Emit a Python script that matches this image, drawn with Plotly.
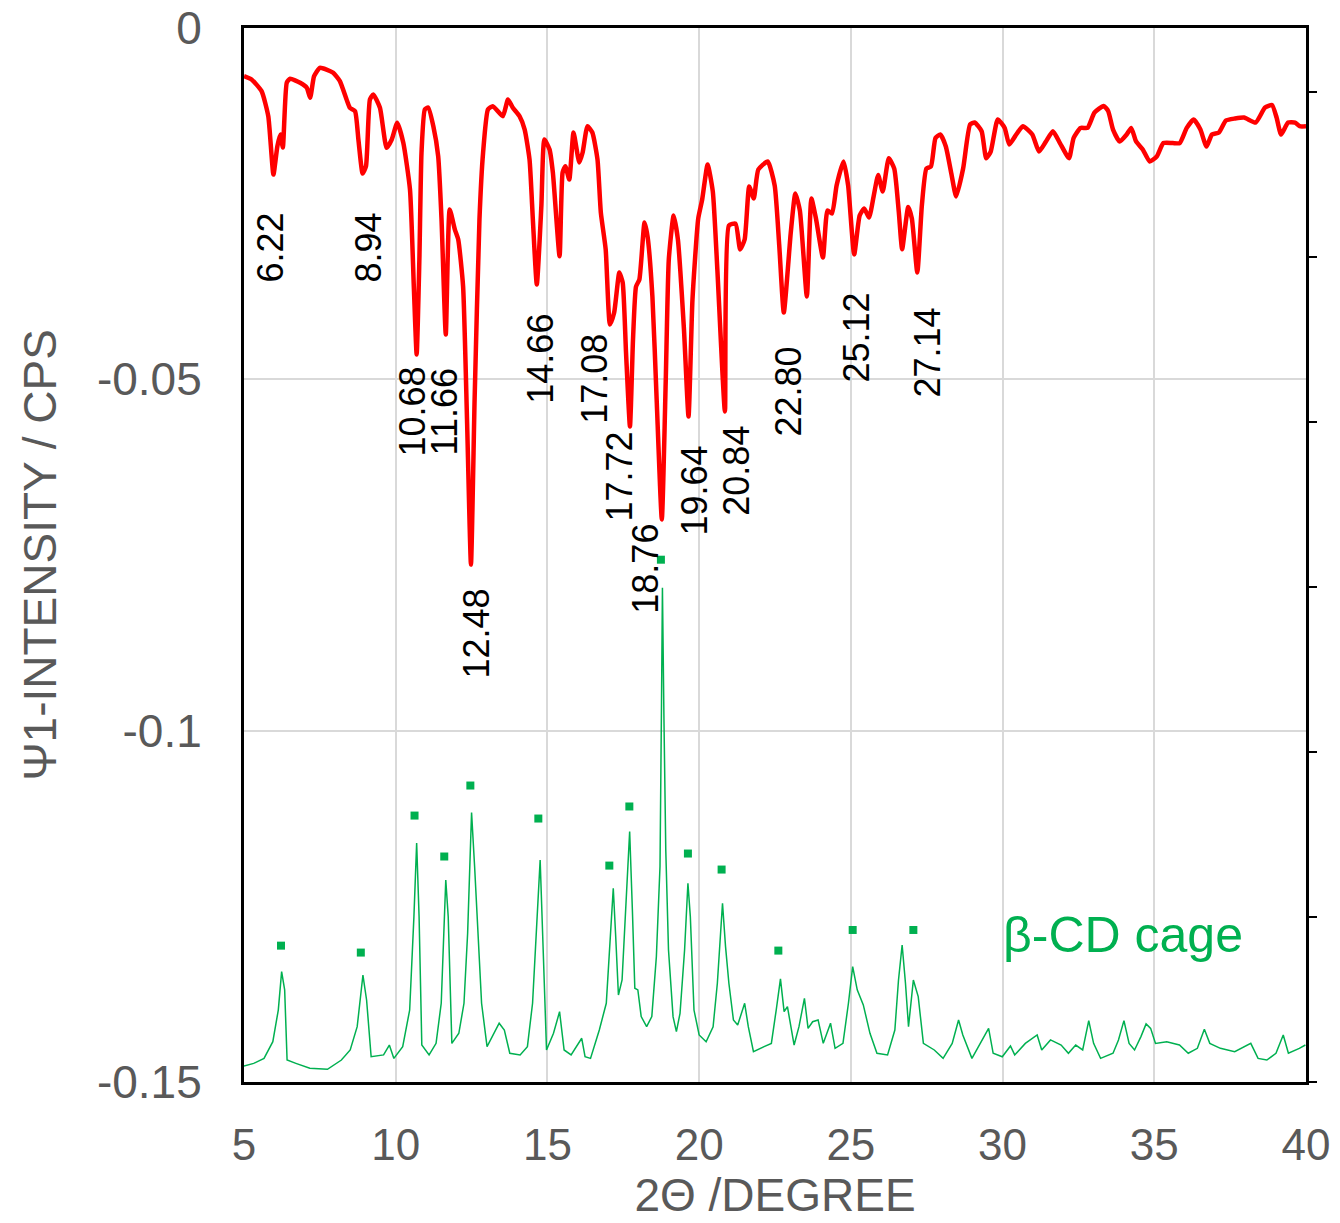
import plotly.graph_objects as go

# ---- Ψ1 intensity (red, left axis) ----
red_x = [5.00, 5.25, 5.58, 5.80, 5.97, 6.10, 6.20, 6.28, 6.41, 6.52, 6.85, 7.07, 7.18, 7.31, 7.50,
         7.72, 7.94, 8.16, 8.38, 8.49, 8.66, 8.77, 8.91, 9.02, 9.15, 9.26, 9.48, 9.70, 9.87, 10.05,
         10.25, 10.47, 10.60, 10.69, 10.78, 10.85, 10.96, 11.07, 11.24, 11.40, 11.51, 11.65, 11.78,
         11.95, 12.06, 12.22, 12.35, 12.48, 12.60, 12.76, 12.88, 13.04, 13.20, 13.53, 13.70, 13.86,
         14.08, 14.25, 14.41, 14.52, 14.65, 14.80, 14.90, 15.07, 15.18, 15.40, 15.50, 15.59, 15.72,
         15.86, 16.05, 16.16, 16.32, 16.48, 16.65, 16.76, 16.92, 17.06, 17.20, 17.37, 17.48, 17.59,
         17.72, 17.82, 17.92, 18.03, 18.20, 18.30, 18.46, 18.60, 18.77, 18.90, 19.00, 19.16, 19.30,
         19.50, 19.65, 19.78, 19.97, 20.10, 20.28, 20.45, 20.60, 20.85, 20.98, 21.20, 21.35, 21.50,
         21.65, 21.80, 21.95, 22.26, 22.49, 22.64, 22.79, 23.02, 23.17, 23.32, 23.55, 23.70, 23.85,
         24.08, 24.23, 24.38, 24.53, 24.76, 24.91, 25.11, 25.29, 25.44, 25.60, 25.75, 25.90, 26.05,
         26.25, 26.43, 26.58, 26.69, 26.89, 27.01, 27.19, 27.34, 27.49, 27.64, 27.79, 27.95, 28.13,
         28.32, 28.47, 28.70, 28.93, 29.08, 29.31, 29.46, 29.61, 29.84, 30.07, 30.22, 30.45, 30.67,
         30.98, 31.20, 31.43, 31.66, 31.89, 32.19, 32.34, 32.57, 32.80, 33.03, 33.33, 33.48, 33.64,
         33.86, 34.09, 34.24, 34.40, 34.62, 34.85, 35.08, 35.30, 35.61, 35.84, 36.07, 36.30, 36.52,
         36.72, 36.90, 37.13, 37.36, 37.66, 37.96, 38.34, 38.65, 38.88, 39.03, 39.18, 39.41, 39.64,
         39.79, 40.00]
red_y = [-0.00686, -0.00733, -0.00899, -0.01255, -0.02085, -0.01682, -0.01516, -0.01701, -0.00776,
         -0.00723, -0.00780, -0.00851, -0.00993, -0.00686, -0.00566, -0.00591, -0.00638, -0.00757,
         -0.01018, -0.01136, -0.01184, -0.01587, -0.02071, -0.01967, -0.01018, -0.00946, -0.01136,
         -0.01705, -0.01587, -0.01349, -0.01634, -0.02299, -0.03720, -0.04647, -0.03290, -0.01772,
         -0.01160, -0.01132, -0.01398, -0.01825, -0.02726, -0.04362, -0.02583, -0.02868, -0.03010,
         -0.03675, -0.05570, -0.07636, -0.05287, -0.02726, -0.01772, -0.01160, -0.01113, -0.01255,
         -0.01018, -0.01136, -0.01255, -0.01445, -0.01872, -0.02726, -0.03651, -0.02536, -0.01587,
         -0.01729, -0.02061, -0.03248, -0.02057, -0.01967, -0.02156, -0.01487, -0.01914, -0.01772,
         -0.01398, -0.01487, -0.01872, -0.02626, -0.03152, -0.04220, -0.04049, -0.03480, -0.03622,
         -0.04618, -0.05671, -0.04434, -0.03679, -0.03580, -0.02768, -0.02967, -0.03822, -0.05287,
         -0.06995, -0.05003, -0.03295, -0.02669, -0.03010, -0.04291, -0.05529, -0.03864, -0.02711,
         -0.02441, -0.01943, -0.02327, -0.03437, -0.05458, -0.02811, -0.02783, -0.03152, -0.03010,
         -0.02256, -0.02427, -0.02014, -0.01900, -0.02242, -0.03095, -0.04049, -0.02911, -0.02356,
         -0.02598, -0.03822, -0.02427, -0.02711, -0.03266, -0.02598, -0.02640, -0.02242, -0.01900,
         -0.02242, -0.03224, -0.02669, -0.02569, -0.02697, -0.02398, -0.02092, -0.02327, -0.01853,
         -0.02000, -0.02619, -0.03147, -0.02548, -0.02711, -0.03480, -0.02526, -0.02000, -0.01971,
         -0.01566, -0.01516, -0.01687, -0.02092, -0.02398, -0.02000, -0.01373, -0.01345, -0.01469,
         -0.01853, -0.01758, -0.01302, -0.01422, -0.01658, -0.01516, -0.01398, -0.01516, -0.01758,
         -0.01615, -0.01469, -0.01637, -0.01853, -0.01566, -0.01422, -0.01422, -0.01203, -0.01110,
         -0.01181, -0.01445, -0.01615, -0.01516, -0.01422, -0.01615, -0.01729, -0.01900, -0.01829,
         -0.01637, -0.01637, -0.01637, -0.01422, -0.01302, -0.01445, -0.01687, -0.01516, -0.01487,
         -0.01317, -0.01288, -0.01274, -0.01345, -0.01132, -0.01096, -0.01274, -0.01516, -0.01345,
         -0.01345, -0.01398, -0.01398]

# ---- β-CD cage XRD pattern (green, right axis, counts) ----
green_x = [5.0, 5.32, 5.66, 5.95, 6.13, 6.24, 6.34, 6.42, 6.71, 7.17, 7.75, 8.21, 8.5, 8.73, 8.92,
           9.04, 9.19, 9.6, 9.79, 9.94, 10.23, 10.46, 10.6, 10.69, 10.77, 10.86, 11.1, 11.33, 11.5,
           11.65, 11.73, 11.85, 12.08, 12.25, 12.37, 12.5, 12.6, 12.69, 12.83, 13.01, 13.24, 13.41,
           13.58, 13.76, 14.1, 14.34, 14.51, 14.66, 14.76, 14.86, 14.97, 15.2, 15.4, 15.55, 15.78,
           16.13, 16.24, 16.42, 16.71, 16.94, 17.05, 17.17, 17.25, 17.34, 17.46, 17.57, 17.71, 17.8,
           17.88, 17.98, 18.09, 18.27, 18.44, 18.59, 18.71, 18.76, 18.79, 18.84, 18.9, 18.99, 19.14,
           19.25, 19.37, 19.52, 19.63, 19.71, 19.83, 20.0, 20.23, 20.46, 20.6, 20.77, 20.87, 20.98,
           21.13, 21.27, 21.5, 21.62, 21.79, 22.14, 22.38, 22.54, 22.68, 22.8, 22.91, 23.13, 23.29,
           23.47, 23.59, 23.74, 23.92, 24.09, 24.33, 24.48, 24.74, 24.92, 25.06, 25.21, 25.41, 25.63,
           25.86, 26.21, 26.45, 26.57, 26.69, 26.8, 26.9, 27.06, 27.22, 27.39, 27.75, 28.04, 28.34,
           28.55, 28.69, 28.99, 29.34, 29.54, 29.69, 29.99, 30.26, 30.4, 30.75, 31.14, 31.29, 31.58,
           31.93, 32.17, 32.41, 32.64, 32.84, 33.0, 33.23, 33.64, 33.82, 34.0, 34.17, 34.35, 34.56,
           34.73, 34.88, 35.04, 35.41, 35.83, 36.12, 36.42, 36.65, 36.83, 37.18, 37.65, 38.18, 38.42,
           38.71, 39.01, 39.25, 39.42, 39.78, 39.98]
green_y = [97, 113, 143, 244, 436, 669, 558, 133, 113, 83, 77, 133, 194, 335, 648,
           497, 153, 164, 224, 143, 214, 436, 1002, 1447, 1002, 224, 164, 234, 477,
           1224, 1002, 234, 295, 477, 901, 1632, 1305, 972, 477, 214, 295, 356,
           315, 174, 164, 214, 477, 1002, 1345, 800, 194, 295, 426, 194, 164,
           265, 153, 143, 315, 477, 800, 1174, 881, 527, 618, 1002, 1517, 1042,
           568, 558, 396, 335, 396, 759, 1305, 2300, 2994, 2200, 1406, 800, 396,
           305, 416, 800, 1204, 1002, 436, 285, 244, 335, 598, 1083, 820, 598,
           376, 345, 477, 335, 184, 214, 234, 436, 625, 426, 456, 224, 335,
           507, 325, 365, 376, 234, 356, 204, 234, 477, 699, 558, 467, 295,
           174, 164, 315, 618, 830, 598, 335, 618, 517, 234, 194, 143, 234,
           376, 285, 143, 255, 325, 174, 153, 218, 164, 234, 285, 194, 255,
           224, 174, 224, 194, 372, 234, 143, 174, 255, 372, 234, 194, 275,
           352, 325, 234, 244, 224, 174, 204, 319, 234, 204, 184, 234, 143,
           133, 174, 285, 174, 204, 224]

# ---- peak markers above the β-CD pattern ----
marker_x = [6.22, 8.85, 10.62, 11.6, 12.46, 14.7, 17.04, 17.7, 18.74, 19.63, 20.74, 22.61, 25.06, 27.06]
marker_y = [826, 784, 1614, 1366, 1796, 1596, 1311, 1669, 3164, 1384, 1287, 796, 921, 921]

# ---- peak labels ----
peak_labels = ["6.22", "8.94", "10.68", "11.66", "12.48", "14.66", "17.08", "17.72",
               "18.76", "19.64", "20.84", "22.80", "25.12", "27.14"]
label_x = [5.86, 9.09, 10.54, 11.62, 12.68, 14.76, 16.54, 17.39, 18.22, 19.86, 21.25, 22.93, 25.17, 27.54]
label_y = [-0.03124, -0.03124, -0.05458, -0.05458, -0.08618, -0.04704, -0.04989, -0.06384,
           -0.07693, -0.06583, -0.06299, -0.05173, -0.04405, -0.04619]

y_tickvals = [-0.15, -0.1, -0.05, 0]
y_ticktext = ["-0.15", "-0.1", "-0.05", "0"]

RED = "#FF0000"
GREEN = "#00B050"
GRAY = "#595959"
FONT = "Liberation Sans, Arial, sans-serif"

fig = go.Figure()
fig.add_trace(go.Scatter(x=green_x, y=green_y, yaxis="y2", mode="lines",
                         line=dict(color=GREEN, width=1.5), name="β-CD cage", showlegend=False))
fig.add_trace(go.Scatter(x=marker_x, y=marker_y, yaxis="y2", mode="markers",
                         marker=dict(symbol="square", size=8, color=GREEN), showlegend=False))
fig.add_trace(go.Scatter(x=red_x, y=red_y, mode="lines",
                         line=dict(color=RED, width=4.5, shape="spline", smoothing=0.5),
                         name="Ψ1", showlegend=False))

for t, lx, ly in zip(peak_labels, label_x, label_y):
    fig.add_annotation(x=lx, y=ly, text=t, textangle=-90, showarrow=False,
                       xanchor="center", yanchor="middle",
                       font=dict(family=FONT, size=36, color="black"))

fig.add_annotation(x=0.828, y=0.1395, xref="paper", yref="paper", text="β-CD cage",
                   showarrow=False, xanchor="center", yanchor="middle",
                   font=dict(family=FONT, size=50, color=GREEN))

fig.update_layout(
    width=1340, height=1223,
    margin=dict(l=244, r=34, t=28, b=141, autoexpand=False),
    paper_bgcolor="white", plot_bgcolor="white",
    font=dict(family=FONT, color=GRAY),
    xaxis=dict(range=[5, 40], dtick=5, tick0=5, showgrid=True, gridcolor="#D9D9D9", gridwidth=1.5,
               showline=True, linecolor="black", linewidth=3, mirror=True, zeroline=False,
               ticks="", ticklabelstandoff=22, automargin=False,
               tickfont=dict(family=FONT, size=44, color=GRAY),
               title=dict(text="2Θ /DEGREE", font=dict(family=FONT, size=46, color=GRAY), standoff=8)),
    yaxis=dict(range=[-0.15, 0], tickvals=y_tickvals, ticktext=y_ticktext, showgrid=True,
               gridcolor="#D9D9D9", gridwidth=1.5, showline=True, linecolor="black", linewidth=3,
               zeroline=False, ticks="", ticklabelstandoff=30, automargin=False,
               tickfont=dict(family=FONT, size=46, color=GRAY),
               title=dict(text="Ψ1-INTENSITY / CPS", font=dict(family=FONT, size=46, color=GRAY), standoff=26)),
    yaxis2=dict(range=[0, 6385], dtick=1000, tick0=0, overlaying="y", side="right",
                showgrid=False, zeroline=False, showline=True, linecolor="black", linewidth=3,
                ticks="outside", ticklen=8, tickwidth=2, tickcolor="black", showticklabels=False,
                automargin=False),
)

fig.write_html("out.html")
